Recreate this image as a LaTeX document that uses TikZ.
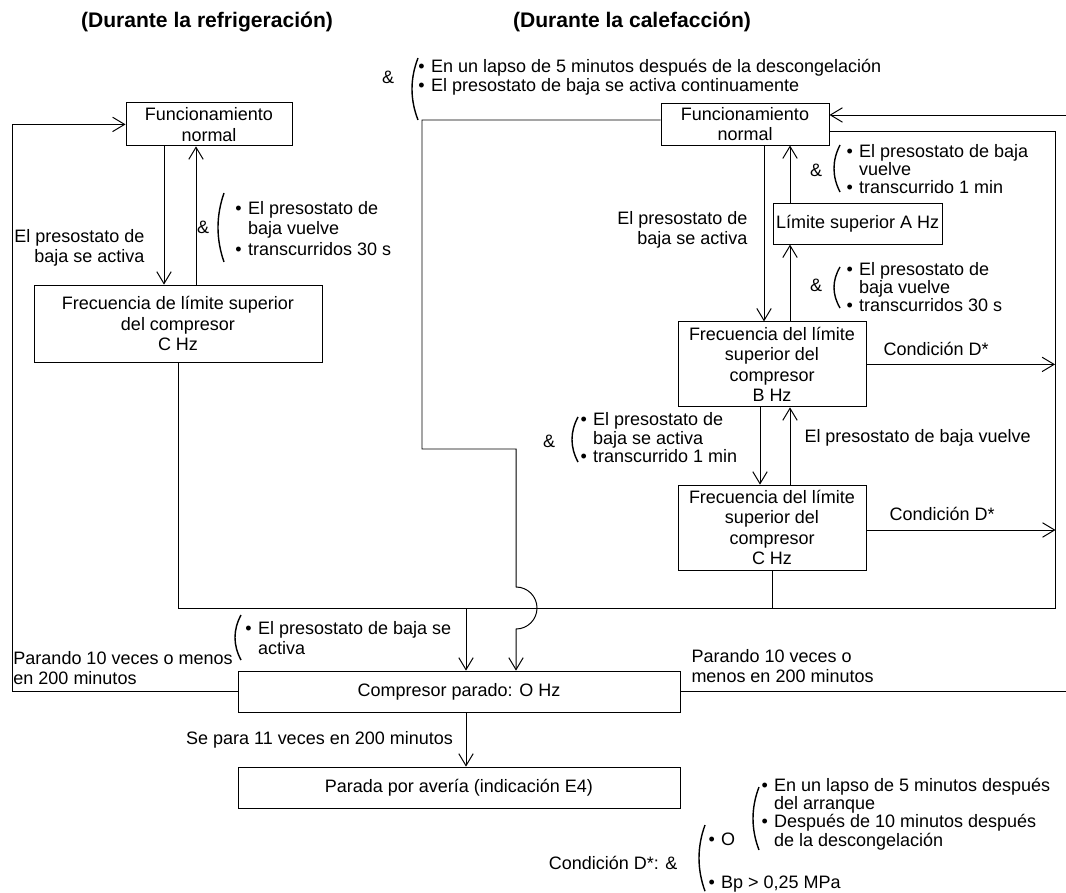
\documentclass[tikz,border=0pt]{standalone}
\usepackage{fontspec}
\setmainfont{Liberation Sans}
\usetikzlibrary{arrows.meta}
% bullet and hanging indent for the condition lists
\newcommand{\itm}{\makebox[0.7em][l]{•}}
\newcommand{\hang}{\hspace*{0.7em}}
% tall opening bracket at x=#1, from y=#2 down to y=#3
\newcommand{\condbrk}[3]{%
  \draw[line width=1pt] ({#1+0.15},#2) .. controls ({#1-0.05},{#2-(#2-#3)/3}) and ({#1-0.05},{#3+(#2-#3)/3}) .. ({#1+0.15},#3);}

\begin{document}
\begin{tikzpicture}[
    every node/.style={font=\fontsize{12.8}{14.5}\selectfont},
    box/.style={draw, line width=0.7pt, align=center, inner sep=1pt},
    lbl/.style={align=left, inner sep=0pt},
    tight/.style={font=\fontsize{12.8}{11.8}\selectfont},
    title/.style={font=\bfseries\fontsize{15}{17}\selectfont},
    arr/.style={-{Straight Barb[length=3mm,width=3.6mm]}},
    line width=0.7pt]
  \useasboundingbox (0,0) rectangle (26.65,22.3);

  %% headings
  \node[title] (tRef) at (5.175,21.75) {(Durante la refrigeración)};
  \node[title] (tCal) at (15.8,21.75) {(Durante la calefacción)};

  %% cooling side
  \node[box, minimum width=4.15cm, minimum height=1.075cm] (normL) at (5.225,19.19) {Funcionamiento\\normal};
  \node[box, minimum width=7.2cm, minimum height=1.925cm] (freqL) at (4.45,14.21) {Frecuencia de límite superior\\del compresor\\C Hz};

  \draw[arr] (4.1,0 |- normL.south) -- (4.1,0 |- freqL.north);
  \draw[arr] (4.9,0 |- freqL.north) -- (4.9,0 |- normL.south);
  \node[lbl, align=right, anchor=east] (actL) at (3.625,16.11) {El presostato de\\baja se activa};
  \node (ampL) at (5.075,16.625) {\&};
  \condbrk{5.45}{17.475}{15.75}
  \node[lbl, anchor=west] (retL) at (5.875,16.59) {\itm El presostato de\\\hang baja vuelve\\\itm transcurridos 30 s};

  %% heating side
  \node[box, minimum width=4.2cm, minimum height=1.05cm] (normR) at (18.625,19.2) {Funcionamiento\\normal};
  \node[box, minimum width=4.225cm, minimum height=1.025cm] (limA) at (21.44,16.71) {Límite superior A Hz};
  \node[box, minimum width=4.7cm, minimum height=2.125cm] (freqB) at (19.3,13.19) {Frecuencia del límite\\superior del\\compresor\\B Hz};
  \node[box, minimum width=4.7cm, minimum height=2.125cm] (freqC) at (19.3,9.11) {Frecuencia del límite\\superior del\\compresor\\C Hz};

  \node (ampTop) at (9.7,20.375) {\&};
  \condbrk{10.3}{20.85}{19.3}
  \node[lbl, anchor=west, font=\fontsize{12.8}{13.4}\selectfont] (defr) at (10.45,20.36) {\itm En un lapso de 5 minutos después de la descongelación\\\itm El presostato de baja se activa continuamente};

  \draw[arr] (19.1,0 |- normR.south) -- (19.1,0 |- freqB.north);
  \node[lbl, align=right, anchor=east] (actR) at (18.7,16.55) {El presostato de\\baja se activa};
  \draw[arr] (19.75,0 |- freqB.north) -- (19.75,0 |- limA.south);
  \draw[arr] (19.75,0 |- limA.north) -- (19.75,0 |- normR.south);

  \node (ampA) at (20.4,18.05) {\&};
  \condbrk{20.85}{18.675}{17.5}
  \node[lbl, anchor=west, font=\fontsize{12.8}{12.7}\selectfont] (retA) at (21.15,18.075) {\itm El presostato de baja\\\hang vuelve\\\itm transcurrido 1 min};
  \node (ampB) at (20.4,15.175) {\&};
  \condbrk{20.85}{15.625}{14.6}
  \node[lbl, anchor=west, tight] (retB) at (21.15,15.125) {\itm El presostato de\\\hang baja vuelve\\\itm transcurridos 30 s};

  \draw[arr] (19.0,0 |- freqB.south) -- (19.0,0 |- freqC.north);
  \draw[arr] (19.75,0 |- freqC.north) -- (19.75,0 |- freqB.south);
  \node (ampC) at (13.725,11.275) {\&};
  \condbrk{14.3}{11.875}{10.75}
  \node[lbl, anchor=west, font=\fontsize{12.8}{11}\selectfont] (actC) at (14.5,11.36) {\itm El presostato de\\\hang baja se activa\\\itm transcurrido 1 min};
  \node[lbl, anchor=west] (retC) at (20.1,11.35) {El presostato de baja vuelve};

  %% condition D exits into the return line
  \coordinate (busR) at (26.375,7.1);
  \draw[arr] (freqB.east) -- (busR |- freqB.east) node[pos=.37, above=1mm] (condB) {Condición D*};
  \draw[arr] ([yshift=-0.6mm]freqC.east) -- ++(4.725,0) node[pos=.4, above=1mm] (condC) {Condición D*};

  %% collecting line to the stop box
  \draw ([yshift=-1.75mm]normR.east) -| (busR) -| (freqL.south);
  \draw (freqC.south) -- (freqC.south |- busR);

  \node[box, minimum width=11.05cm, minimum height=1.025cm] (parado) at (11.475,5.01) {Compresor parado: O Hz};
  \node[box, minimum width=11.05cm, minimum height=1.025cm] (parada) at (11.475,2.61) {Parada por avería (indicación E4)};

  \draw[arr] (11.65,7.1) -- (11.65,0 |- parado.north);
  \draw[arr] ([yshift=1mm]normR.west) -| (10.55,11.075) -| (12.9,7.625)
    arc[start angle=90, end angle=-90, radius=0.525] -- (12.9,0 |- parado.north);
  \condbrk{5.875}{6.925}{5.8}
  \node[lbl, anchor=west] (actS) at (6.125,6.35) {\itm El presostato de baja se\\\hang activa};

  %% restart loops
  \draw[arr] (parado.west) -| (0.3,0 |- normL.west) -- (normL.west);
  \node[lbl, anchor=west] (loopL) at (0.325,5.6) {Parando 10 veces o menos\\en 200 minutos};
  \draw (parado.east) -- (26.65,0 |- parado.east);
  \draw[arr] (26.65,19.425) -- (normR.east |- 0,19.425);
  \node[lbl, anchor=west] (loopR) at (17.275,5.65) {Parando 10 veces o\\menos en 200 minutos};

  \draw[arr] (11.65,0 |- parado.south) -- (11.65,0 |- parada.north) node[midway, left=2mm] (stop11) {Se para 11 veces en 200 minutos};

  %% footnote for condition D
  \node[lbl, anchor=east] (condD) at (16.95,0.725) {Condición D*: \&};
  \condbrk{17.475}{1.675}{0.02}
  \node[lbl, anchor=west] (optO) at (17.7,1.325) {\itm O};
  \node[lbl, anchor=west] (optBp) at (17.7,0.2) {\itm Bp > 0,25 MPa};
  \condbrk{18.825}{2.625}{1.05}
  \node[lbl, anchor=west, font=\fontsize{12.8}{10.8}\selectfont] (optT) at (19.025,1.95) {\itm En un lapso de 5 minutos después\\\hang del arranque\\\itm Después de 10 minutos después\\\hang de la descongelación};
\end{tikzpicture}
\end{document}
